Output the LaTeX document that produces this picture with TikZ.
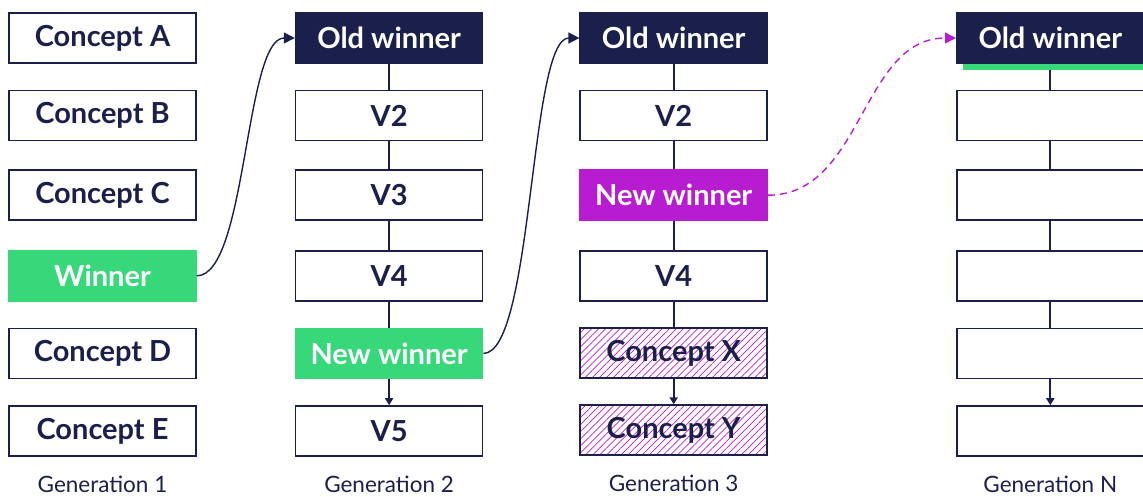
\documentclass[tikz,border=0pt]{standalone}
\usepackage{fontspec}
\setmainfont{Lato}
\usetikzlibrary{positioning}
\usetikzlibrary{arrows.meta}
\usetikzlibrary{patterns.meta}
\definecolor{navy}{RGB}{27,31,75}
\definecolor{wingreen}{RGB}{54,216,122}
\definecolor{winpurple}{RGB}{184,28,208}
\tikzset{concept/.style={rectangle,draw=navy,fill=white,line width=1.6pt,inner sep=0pt,
minimum width=187pt, minimum height=50pt, text=navy, font=\fontsize{29}{29}\selectfont\bfseries},
oldwin/.style={concept,fill=navy,text=white},
newwin/.style={concept,fill=wingreen,draw=wingreen,text=white},
purplewin/.style={concept,fill=winpurple,draw=winpurple,text=white},
hatched/.style={concept,pattern={Lines[angle=45,distance=5pt,line width=0.7pt]},pattern color=winpurple},
genlabel/.style={inner sep=0pt, text=navy, font=\fontsize{22.5}{22.5}\selectfont},
link/.style={draw=navy,line width=1.8pt},
curve/.style={draw=navy,line width=1.4pt,-{Triangle[length=11pt,width=11pt]}},
>={Triangle[length=7pt,width=8pt]}}

\begin{document}
\begin{tikzpicture}[x=1pt,y=-1pt]
    \useasboundingbox (0,0) rectangle (1143,496);

    % generation 1
    \node (concept_a) [concept] at (102.5,38) {Concept A};
    \node (concept_b) [concept, below = 26pt of concept_a] {Concept B};
    \node (concept_c) [concept, below = 28pt of concept_b] {Concept C};
    \node (winner) [newwin, below = 29pt of concept_c] {Winner};
    \node (concept_d) [concept, below = 26pt of winner] {Concept D};
    \node (concept_e) [concept, below = 26pt of concept_d] {Concept E};
    \node (gen_1) [genlabel, below = 19pt of concept_e] {Generation 1};

    % generation 2
    \node (oldwin_2) [oldwin, right = 98pt of concept_a] {Old winner};
    \node (v2_2) [concept, below = 26pt of oldwin_2] {V2};
    \node (v3_2) [concept, below = 28pt of v2_2] {V3};
    \node (v4_2) [concept, below = 29pt of v3_2] {V4};
    \node (newwin_2) [newwin, below = 26pt of v4_2] {New winner};
    \node (v5_2) [concept, below = 26pt of newwin_2] {V5};
    \node (gen_2) [genlabel, below = 19pt of v5_2] {Generation 2};

    % generation 3
    \node (oldwin_3) [oldwin, right = 96pt of oldwin_2] {Old winner};
    \node (v2_3) [concept, below = 26pt of oldwin_3] {V2};
    \node (newwin_3) [purplewin, below = 28pt of v2_3] {New winner};
    \node (v4_3) [concept, below = 29pt of newwin_3] {V4};
    \node (concept_x) [hatched, below = 26pt of v4_3] {Concept X};
    \node (concept_y) [hatched, below = 26pt of concept_x] {Concept Y};
    \node (gen_3) [genlabel, below = 19pt of concept_y] {Generation 3};

    % generation N
    \node (oldwin_n) [oldwin, right = 188pt of oldwin_3] {Old winner};
    \fill [wingreen] ([xshift=7pt]oldwin_n.south west) rectangle ([yshift=-6pt]oldwin_n.south east);
    \coordinate (bar_n) at ([yshift=-6pt]oldwin_n.south);
    \node (blank_n1) [concept, below = 26pt of oldwin_n] {};
    \node (blank_n2) [concept, below = 28pt of blank_n1] {};
    \node (blank_n3) [concept, below = 29pt of blank_n2] {};
    \node (blank_n4) [concept, below = 26pt of blank_n3] {};
    \node (blank_n5) [concept, below = 26pt of blank_n4] {};
    \node (gen_n) [genlabel, below = 19pt of blank_n5] {Generation N};

    \draw [link] (oldwin_2) -- (v2_2);
    \draw [link] (v2_2) -- (v3_2);
    \draw [link] (v3_2) -- (v4_2);
    \draw [link] (v4_2) -- (newwin_2);
    \draw [link,->] (newwin_2) -- (v5_2);

    \draw [link] (oldwin_3) -- (v2_3);
    \draw [link] (v2_3) -- (newwin_3);
    \draw [link] (newwin_3) -- (v4_3);
    \draw [link] (v4_3) -- (concept_x);
    \draw [link,->] (concept_x) -- (concept_y);

    \draw [link] (bar_n) -- (blank_n1);
    \draw [link] (blank_n1) -- (blank_n2);
    \draw [link] (blank_n2) -- (blank_n3);
    \draw [link] (blank_n3) -- (blank_n4);
    \draw [link,->] (blank_n4) -- (blank_n5);

    \draw [curve] (winner.east) .. controls +(50,0) and +(-50,0) .. (oldwin_2.west);
    \draw [curve] (newwin_2.east) .. controls +(50,0) and +(-50,0) .. (oldwin_3.west);
    \draw [curve, draw=winpurple, dash pattern=on 7pt off 5pt] (newwin_3.east) .. controls +(95,0) and +(-95,0) .. (oldwin_n.west);

\end{tikzpicture}
\end{document}
